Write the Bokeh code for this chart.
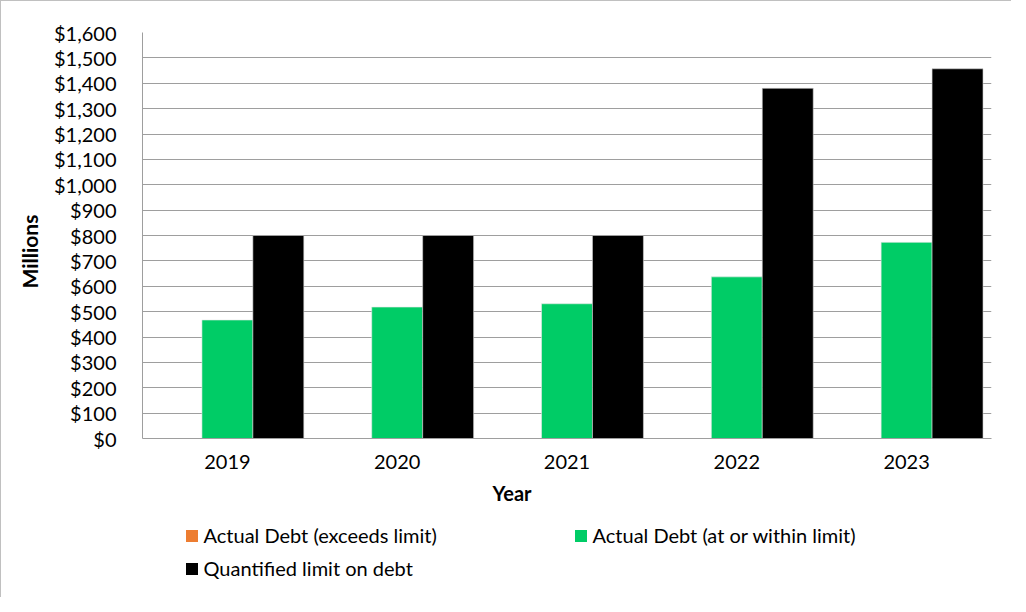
from bokeh.plotting import figure
from bokeh.layouts import column
from bokeh.models import (Legend, LegendItem, Title, NumeralTickFormatter,
                          SingleIntervalTicker, ColumnDataSource)
from bokeh.transform import dodge
from bokeh.embed import file_html
from bokeh.resources import INLINE

years = ["2019", "2020", "2021", "2022", "2023"]
debt_exceeds = [0, 0, 0, 0, 0]
debt_within = [467, 518, 531, 637, 773]
debt_limit = [800, 800, 800, 1380, 1457]

series_names = ["Actual Debt (exceeds limit)", "Actual Debt (at or within limit)",
                "Quantified limit on debt"]
series_colors = ["#ED7D31", "#00CC66", "#000000"]

FONT = "Lato"

source = ColumnDataSource(dict(years=years, exceeds=debt_exceeds,
                               within=debt_within, limit=debt_limit))

p = figure(x_range=years, y_range=(0, 1600), width=1010, height=510,
           output_backend="svg", toolbar_location=None,
           min_border_left=141, min_border_right=20,
           min_border_top=31, min_border_bottom=73)

r0 = p.vbar(x=dodge("years", -0.3, range=p.x_range), top="exceeds", width=0.3,
            source=source, fill_color=series_colors[0], line_color=None)
r1 = p.vbar(x=dodge("years", 0.0, range=p.x_range), top="within", width=0.3,
            source=source, fill_color=series_colors[1], line_color="#e8e8e8",
            line_width=0.6)
r2 = p.vbar(x=dodge("years", 0.3, range=p.x_range), top="limit", width=0.3,
            source=source, fill_color=series_colors[2], line_color="#d0d0d0",
            line_width=0.6)

p.outline_line_color = None
p.background_fill_color = "white"
p.border_fill_color = "white"

p.x_range.range_padding = 0
p.xgrid.grid_line_color = None
p.ygrid.grid_line_color = "#9e9e9e"
p.ygrid.grid_line_width = 1

p.yaxis.ticker = SingleIntervalTicker(interval=100)
p.yaxis.formatter = NumeralTickFormatter(format="$0,0")

for ax in (p.xaxis, p.yaxis):
    ax.major_label_text_font = FONT
    ax.major_label_text_font_size = "20px"
    ax.major_label_text_color = "#000000"
    ax.major_tick_line_color = None
    ax.minor_tick_line_color = None
    ax.axis_line_color = "#9e9e9e"

p.yaxis.major_label_standoff = 20
p.xaxis.major_label_standoff = 10

millions_title = Title(text="Millions", align="left", offset=150, standoff=18,
                       text_font=FONT, text_font_style="bold", text_font_size="21px",
                       text_color="#000000")
p.add_layout(millions_title, "left")

year_title = Title(text="Year", align="left", offset=350, standoff=14,
                   text_font=FONT, text_font_style="bold", text_font_size="20px",
                   text_color="#000000")
p.add_layout(year_title, "below")

# legend strip below the chart (frames are aligned with the chart above)
lf = figure(width=1010, height=86, x_range=(0, 1), y_range=(0, 1),
            output_backend="svg", toolbar_location=None,
            min_border=0, min_border_left=0, min_border_right=0,
            min_border_top=0, min_border_bottom=0)
lf.axis.visible = False
lf.grid.visible = False
lf.outline_line_color = None
lf.border_fill_color = "white"
lf.background_fill_color = "white"

# zero-size placeholder glyphs that only carry the legend swatch colours
placeholder = ColumnDataSource(dict(x=[0.5], top=[0]))
lr = [lf.vbar(x="x", top="top", bottom=0, width=0, source=placeholder,
              fill_color=c, line_color=None) for c in series_colors]

legend = Legend(items=[LegendItem(label=n, renderers=[r], index=0)
                       for n, r in zip(series_names, lr)],
                location=(41.5, 17), orientation="horizontal", ncols=2,
                glyph_width=15, glyph_height=15, label_standoff=5,
                label_width=360, label_height=24, spacing=9,
                padding=0, margin=0, border_line_color=None,
                background_fill_alpha=0,
                label_text_font=FONT, label_text_font_size="20px",
                label_text_color="#000000")
lf.add_layout(legend, "center")

layout = column(p, lf, spacing=0,
                styles={"border-left": "1px solid #c0c0c0", "border-top": "1px solid #c0c0c0"})

open("out.html", "w").write(file_html(layout, INLINE))
